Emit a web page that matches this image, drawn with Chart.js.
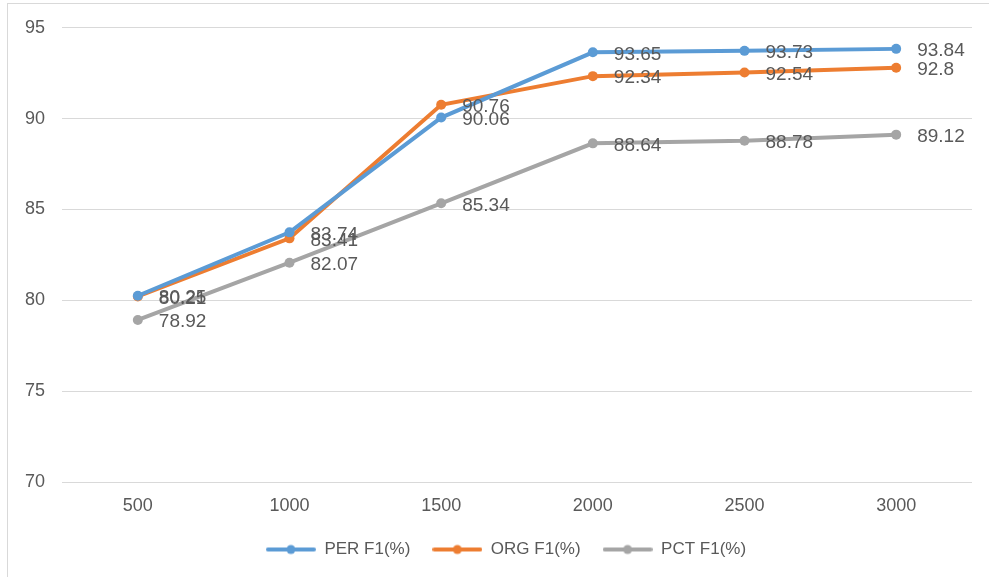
<!DOCTYPE html>
<html>
<head>
<meta charset="utf-8">
<script src="https://cdn.jsdelivr.net/npm/chart.js@4/dist/chart.umd.min.js"></script>
<style>
    html, body { margin: 0; padding: 0; background: #fff; }
    #wrap { position: relative; width: 989px; height: 577px; }
    #frame { position: absolute; left: 7px; top: 3px; right: 0; bottom: 0;
             border-left: 1px solid #d9d9d9; border-top: 1px solid #d9d9d9; pointer-events: none; }
</style>
</head>
<body>
<div id="wrap">
    <canvas id="linhas" width="989" height="577"></canvas>
    <div id="frame"></div>
</div>
<script>
const categorias = ["500", "1000", "1500", "2000", "2500", "3000"];
const perF1 = [80.25, 83.74, 90.06, 93.65, 93.73, 93.84];
const orgF1 = [80.21, 83.41, 90.76, 92.34, 92.54, 92.8];
const pctF1 = [78.92, 82.07, 85.34, 88.64, 88.78, 89.12];
const ticksY = [70, 75, 80, 85, 90, 95];

const fonte = "'Liberation Sans', Arial, sans-serif";

function marcador(cor) {
    let c = document.createElement("canvas");
    c.width = 50;
    c.height = 12;
    let ctx = c.getContext("2d");
    ctx.strokeStyle = cor;
    ctx.lineWidth = 4;
    ctx.lineCap = "round";
    ctx.beginPath();
    ctx.moveTo(2, 6);
    ctx.lineTo(48, 6);
    ctx.stroke();
    ctx.fillStyle = cor;
    ctx.beginPath();
    ctx.arc(25, 6, 4.5, 0, Math.PI * 2);
    ctx.fill();
    return c;
}

// rótulos de valor à direita de cada ponto
const rotulos = {
    id: "rotulos",
    afterDatasetsDraw(chart) {
        let ctx = chart.ctx;
        ctx.save();
        ctx.font = "19px " + fonte;
        ctx.fillStyle = "#595959";
        ctx.textBaseline = "middle";
        ctx.textAlign = "left";
        chart.data.datasets.forEach((ds, i) => {
            chart.getDatasetMeta(i).data.forEach((pt, j) => {
                ctx.fillText(String(ds.data[j]), pt.x + 21, pt.y + 2);
            });
        });
        ctx.restore();
    }
};

// empurra a legenda um pouco para a direita / para cima
const ajusteLegenda = {
    id: "ajusteLegenda",
    afterLayout(chart) {
        let lg = chart.legend;
        lg.left += 20;
        lg.right += 20;
        lg.top -= 3;
        lg.bottom -= 3;
    }
};

const cores = ["#5B9BD5", "#ED7D31", "#A5A5A5"];
const series = [
    { label: "PER F1(%)", data: perF1 },
    { label: "ORG F1(%)", data: orgF1 },
    { label: "PCT F1(%)", data: pctF1 }
];

let linhas = new Chart(document.getElementById("linhas"), {
    type: 'line',
    data: {
        labels: categorias,
        datasets: series.map((s, i) => ({
            label: s.label,
            data: s.data,
            borderColor: cores[i],
            backgroundColor: cores[i],
            borderWidth: 4,
            pointRadius: 5,
            pointHoverRadius: 5,
            pointBackgroundColor: cores[i],
            pointBorderWidth: 0,
            pointStyle: 'circle',
            tension: 0
        }))
    },
    options: {
        responsive: false,
        animation: false,
        layout: {
            padding: { top: 22, right: 17, left: 0, bottom: 6 }
        },
        scales: {
            x: {
                offset: true,
                grid: { display: false },
                border: { display: false },
                ticks: { color: "#595959", font: { family: fonte, size: 18 }, padding: 5 },
                afterFit: s => { s.height = 40; }
            },
            y: {
                min: 70,
                max: 95,
                afterBuildTicks: s => { s.ticks = ticksY.map(v => ({ value: v })); },
                grid: { color: "#d9d9d9", lineWidth: 1, drawTicks: false },
                border: { display: false },
                ticks: { color: "#595959", font: { family: fonte, size: 18 }, padding: 17 },
                afterFit: s => { s.width = 62; }
            }
        },
        plugins: {
            legend: {
                position: 'bottom',
                labels: {
                    usePointStyle: true,
                    pointStyleWidth: 50,
                    padding: 22,
                    color: "#595959",
                    font: { family: fonte, size: 17 },
                    generateLabels: chart => chart.data.datasets.map((ds, i) => ({
                        text: ds.label,
                        pointStyle: marcador(cores[i]),
                        fillStyle: cores[i],
                        strokeStyle: cores[i],
                        lineWidth: 0,
                        fontColor: "#595959",
                        datasetIndex: i
                    }))
                }
            },
            title: { display: false },
            tooltip: { enabled: false }
        }
    },
    plugins: [rotulos, ajusteLegenda]
});
</script>
</body>
</html>
